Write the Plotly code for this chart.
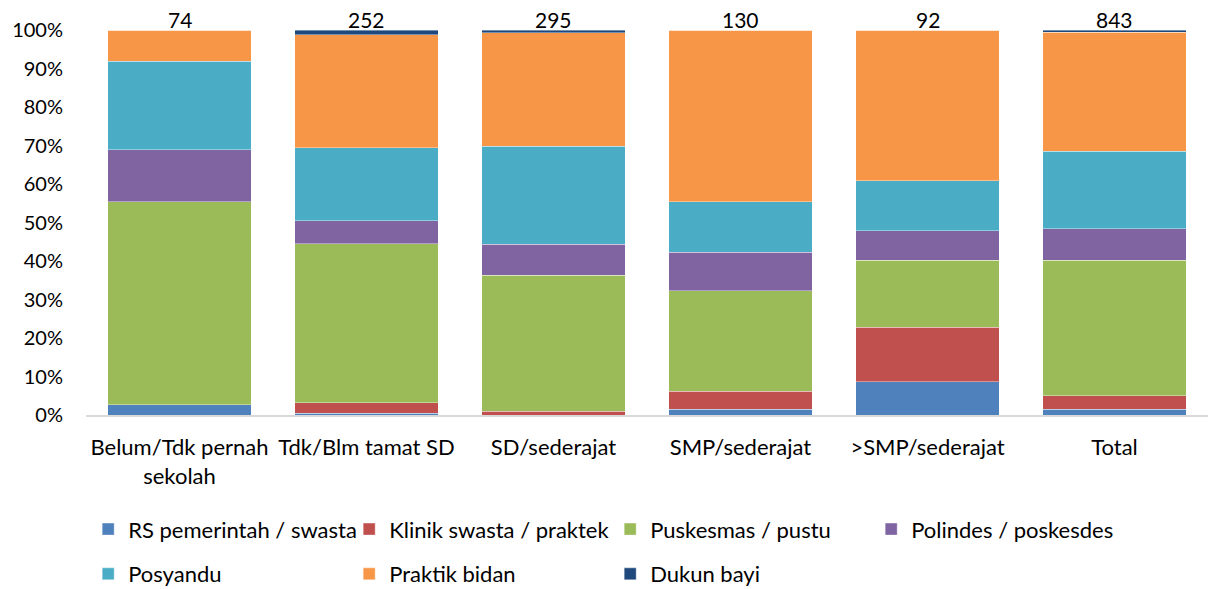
import plotly.graph_objects as go

categories = ["Belum/Tdk pernah<br>sekolah", "Tdk/Blm tamat SD", "SD/sederajat",
              "SMP/sederajat", ">SMP/sederajat", "Total"]
totals = [74, 252, 295, 130, 92, 843]

rs_pemerintah = [2, 1, 0, 2, 8, 13]
klinik_swasta = [0, 7, 3, 6, 13, 29]
puskesmas = [39, 104, 104, 34, 16, 297]
polindes = [10, 15, 24, 13, 7, 69]
posyandu = [17, 48, 75, 17, 12, 169]
praktik_bidan = [6, 74, 87, 58, 36, 261]
dukun_bayi = [0, 3, 2, 0, 0, 5]

series = [
    ("RS pemerintah / swasta", rs_pemerintah, "#4F81BD", "legend"),
    ("Klinik swasta / praktek", klinik_swasta, "#C0504D", "legend"),
    ("Puskesmas / pustu", puskesmas, "#9BBB59", "legend"),
    ("Polindes / poskesdes", polindes, "#8064A2", "legend"),
    ("Posyandu", posyandu, "#4BACC6", "legend2"),
    ("Praktik bidan", praktik_bidan, "#F79646", "legend2"),
    ("Dukun bayi", dukun_bayi, "#1F497D", "legend2"),
]

FONT = "Lato, 'Open Sans', Arial, sans-serif"

fig = go.Figure()
for name, vals, color, lg in series:
    fig.add_trace(go.Bar(
        name=name, x=categories, y=vals, legend=lg,
        marker=dict(color=color, line=dict(color="rgba(255,255,255,0.55)", width=0.7)),
    ))

for cat, tot in zip(categories, totals):
    fig.add_annotation(x=cat, y=100, xref="x", yref="y", text=str(tot),
                       showarrow=False, yanchor="bottom", yshift=-4,
                       font=dict(size=21, color="black", family=FONT))

legend_common = dict(orientation="h", xref="container", yref="container",
                     xanchor="left", yanchor="top",
                     entrywidth=216, entrywidthmode="pixels",
                     traceorder="normal",
                     font=dict(size=22, family=FONT, color="black"),
                     itemwidth=30, bgcolor="rgba(0,0,0,0)")

fig.update_layout(
    barmode="stack", barnorm="percent",
    width=1208, height=589,
    margin=dict(l=86, r=0, t=30, b=174, autoexpand=False),
    paper_bgcolor="white", plot_bgcolor="white",
    bargap=0.232,
    font=dict(family=FONT, size=22, color="black"),
    showlegend=True,
    legend=dict(x=0.073, y=0.137, **legend_common),
    legend2=dict(x=0.073, y=0.061, **legend_common),
)
fig.update_xaxes(showline=True, linecolor="#D9D9D9", linewidth=1.5, ticks="",
                 automargin=False, ticklabelstandoff=12,
                 tickfont=dict(size=22, family=FONT, color="black"))
fig.update_yaxes(range=[0, 100], dtick=10, ticksuffix="%", showgrid=False,
                 zeroline=False, showline=False, automargin=False,
                 ticklabelstandoff=22,
                 tickfont=dict(size=20, family=FONT, color="black"))

fig.write_html("out.html", config={"displayModeBar": False},
               post_script="document.body.style.margin='0';")
